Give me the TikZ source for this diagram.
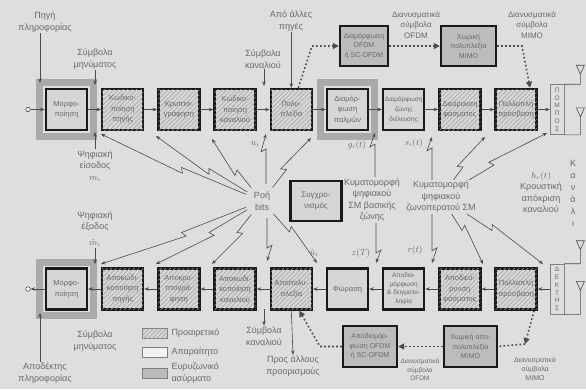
\documentclass[tikz,border=0pt]{standalone}
\usepackage{fontspec}
\setmainfont{Liberation Sans}
\usetikzlibrary{positioning,arrows.meta,calc,fit,patterns.meta}

\definecolor{bgray}{RGB}{222,222,222}
\definecolor{boxgray}{RGB}{214,214,214}
\definecolor{darkbox}{RGB}{188,188,188}
\definecolor{bandgray}{RGB}{170,170,170}
\definecolor{txtgray}{RGB}{105,105,105}
\definecolor{linegray}{RGB}{75,75,75}

\tikzset{
  blk/.style={draw=black!90, line width=2.4pt, fill=boxgray, minimum width=41pt,
    minimum height=41pt, inner sep=1pt, align=center, text=txtgray,
    font=\fontsize{7.5}{10.5}\selectfont},
  optblk/.style={blk, postaction={pattern={Lines[angle=45,distance=3.2pt,line width=0.5pt]},
    pattern color=gray!75}},
  darkblk/.style={blk, fill=darkbox, minimum width=48pt, minimum height=40pt,
    font=\fontsize{7}{9.5}\selectfont},
  band/.style={draw=bandgray, line width=7pt, inner sep=5pt},
  trx/.style={draw=gray, line width=0.6pt, minimum width=14pt, minimum height=50pt,
    inner sep=1pt, align=center, text=txtgray, font=\fontsize{6.5}{7.8}\selectfont},
  lbl/.style={text=txtgray, align=center, inner sep=1pt, font=\fontsize{9}{11.5}\selectfont},
  smlbl/.style={lbl, font=\fontsize{8}{10.5}\selectfont},
  conn/.style={draw=linegray, line width=0.6pt, -{Stealth[length=4.5pt,width=3.5pt]}},
  dotline/.style={draw=linegray, line width=1.6pt, dash pattern=on 1.6pt off 2.4pt},
  dotconn/.style={dotline, -{Triangle[length=6pt,width=6pt]}},
  port/.style={circle, draw=linegray, line width=0.6pt, fill=white, inner sep=1.6pt},
  legsw/.style={draw=gray, line width=0.6pt, minimum width=25pt, minimum height=10pt, inner sep=0pt},
  bolt/.style={to path={-- ($(\tikztostart)!#1!(\tikztotarget)$)
    -- ($(\tikztostart)!#1!(\tikztotarget)!3pt!(\tikztostart)!5pt!90:(\tikztotarget)$)
    -- (\tikztotarget) \tikztonodes}},
  bolt/.default=0.5
}

\begin{document}
\begin{tikzpicture}[x=1pt, y=-1pt, node distance=12.8pt]
  \fill[bgray] (0,0) rectangle (586,389);
  \useasboundingbox (0,0) rectangle (586,389);

  % transmitter
  \node[port] (src) at (28,109.5) {};
  \node[blk] (mf) at (66.5,109.5) {Μορφο-\\ποίηση};
  \node[optblk, right=of mf] (kp) {Κωδικο-\\ποίηση\\πηγής};
  \node[optblk, right=of kp] (kr) {Κρυπτο-\\γράφηση};
  \node[optblk, right=of kr] (kk) {Κωδικο-\\ποίηση\\καναλιού};
  \node[optblk, right=of kk] (pl) {Πολυ-\\πλεξία};
  \node[blk, right=of pl] (dp) {Διαμόρ-\\φωση\\παλμών};
  \node[blk, right=of dp, font=\fontsize{6.5}{10}\selectfont] (dz) {Διαμόρφωση\\ζώνης\\διέλευσης};
  \node[optblk, right=of dz] (df) {Διεύρυνση\\φάσματος};
  \node[optblk, right=of df] (pp) {Πολλαπλή\\πρόσβαση};
  \node[trx, right=12pt of pp] (pomp) {Π\\Ο\\Μ\\Π\\Ο\\Σ};

  % receiver
  \node[port] (snk) at (28,289) {};
  \node[blk] (mf2) at (66.5,289) {Μορφο-\\ποίηση};
  \node[optblk, right=of mf2] (ak) {Αποκωδι-\\κοποίηση\\πηγής};
  \node[optblk, right=of ak] (akr) {Αποκρυ-\\πτογρά-\\φηση};
  \node[optblk, right=of akr] (akk) {Αποκωδι-\\κοποίηση\\καναλιού};
  \node[optblk, right=of akk] (apl) {Αποπολυ-\\πλεξία};
  \node[blk, right=of apl] (fo) {Φώραση};
  \node[blk, right=of fo, font=\fontsize{6.5}{8.5}\selectfont] (ad) {Αποδια-\\μόρφωση\\\& δειγματο-\\ληψία};
  \node[optblk, right=of ad] (adf) {Αποδιεύ-\\ρυνση\\φάσματος};
  \node[optblk, right=of adf] (pp2) {Πολλαπλή\\πρόσβαση};
  \node[trx, right=12pt of pp2] (dekt) {Δ\\Ε\\Κ\\Τ\\Η\\Σ};

  \node[band, fit=(mf)] {};
  \node[band, fit=(dp)] {};
  \node[band, fit=(mf2)] {};

  \draw[conn] (src) -- (mf);
  \foreach \a/\b in {mf/kp,kp/kr,kr/kk,kk/pl,pl/dp,dp/dz,dz/df,df/pp,pp/pomp}
    \draw[conn] (\a) -- (\b);
  \foreach \a/\b in {dekt/pp2,pp2/adf,adf/ad,ad/fo,fo/apl,apl/akk,akk/akr,akr/ak,ak/mf2}
    \draw[conn] (\a) -- (\b);
  \draw[conn] (mf2) -- (snk);

  % antennas
  \draw[linegray, line width=0.6pt] (pomp.north east) -- ++(16pt,0) -- ++(0,10pt) coordinate (ant1)
    -- ++(-4pt,9pt) -- ++(8pt,0) -- (ant1);
  \draw[linegray, line width=0.6pt] (pomp.south east) -- ++(16pt,0) -- ++(0,18pt) coordinate (ant2)
    -- ++(-4pt,9pt) -- ++(8pt,0) -- (ant2);
  \draw[linegray, line width=0.6pt] (dekt.north east) -- ++(16pt,0) -- ++(0,14pt) coordinate (ant3)
    -- ++(-4pt,9pt) -- ++(8pt,0) -- (ant3);
  \draw[linegray, line width=0.6pt] (dekt.south east) -- ++(16pt,0) -- ++(0,24pt) coordinate (ant4)
    -- ++(-4pt,9pt) -- ++(8pt,0) -- (ant4);

  % labels above the transmitter
  \node[lbl] (pigi) at (45,22) {Πηγή\\πληροφορίας};
  \coordinate (pigiin) at (40,83);
  \draw[conn] (pigi.south -| pigiin) -- (pigiin);
  \node[lbl] (symm) at (95,59) {Σύμβολα\\μηνύματος};
  \coordinate (symmin) at (95,85);
  \draw[conn] (symm.south) -- (symmin);
  \node[lbl] (allo) at (291,21) {Από άλλες\\πηγές};
  \draw[conn] (allo.south -| pl.north) -- (pl.north);
  \node[lbl] (symk) at (263,59) {Σύμβολα\\καναλιού};
  \coordinate (symkin) at (264,86);
  \draw[conn] (symk.south -| symkin) -- (symkin);

  \node[darkblk] (ofdm) at (364,46) {Διαμόρφωση\\OFDM\\ή SC-OFDM};
  \node[darkblk, minimum width=55pt] (mimo) at (468.5,46) {Χωρική\\πολυπλεξία\\MIMO};
  \node[smlbl] (vofdm) at (416,25) {Διανυσματικά\\σύμβολα\\OFDM};
  \node[smlbl] (vmimo) at (532,25) {Διανυσματικά\\σύμβολα\\MIMO};
  \draw[dotconn] ($(pl.north)+(7pt,0)$) -- (312,46) -- (ofdm.west);
  \draw[dotconn] (ofdm) -- (mimo);
  \draw[dotconn] (mimo.east) -- (522,46) -- ($(pp.north)+(14pt,0)$);

  % middle
  \node[lbl] (din) at (95,166) {Ψηφιακή\\είσοδος\\$m_i$};
  \coordinate (dinend) at (95,132);
  \draw[conn] (din.north) -- (dinend);
  \node[lbl] (dout) at (95,229) {Ψηφιακή\\έξοδος\\[4pt]$\hat{m}_i$};
  \coordinate (doutend) at (95,264);
  \draw[conn] (dout.south) -- (doutend);

  \node[lbl, circle, inner sep=0pt, minimum size=34pt] (rb) at (262,201) {Ροή\\bits};
  \coordinate (t1) at (101,134);
  \coordinate (t2) at (156,136);
  \coordinate (t3) at (212,139);
  \coordinate (t5) at (311,138);
  \coordinate (tu) at (266,134);
  \coordinate (b1) at (101,264);
  \coordinate (b2) at (156,264);
  \coordinate (b3) at (212,264);
  \coordinate (b5) at (317,263);
  \coordinate (bu) at (267,261);
  \foreach \t in {t1,t2,t3,t5,b1,b2,b3,b5}
    \draw[conn] (rb) to[bolt] (\t);
  \draw[conn] (rb.north -| tu) to[bolt=0.7] (tu);
  \draw[conn] (rb.south -| bu) to[bolt=0.7] (bu);
  \node[lbl] (ui) at (255,144) {$u_i$};
  \node[lbl] (uhat) at (314,253) {$\hat{u}_i$};

  \node[blk, minimum width=51pt, minimum height=40pt, font=\fontsize{8}{11}\selectfont] (sync) at (316,201) {Συγχρο-\\νισμός};

  \node[lbl] (kb) at (372,200) {Κυματομορφή\\ψηφιακού\\ΣΜ βασικής\\ζώνης};
  \coordinate (gend) at (375,133);
  \coordinate (zend) at (376,263);
  \draw[conn] (kb.north -| gend) to[bolt=0.75] (gend);
  \draw[conn] (kb.south -| zend) to[bolt=0.75] (zend);
  \node[lbl] (gi) at (357,145) {$g_i(t)$};
  \node[lbl] (zt) at (361,253) {$z(T)$};

  \node[lbl] (kz) at (441,197) {Κυματομορφή\\ψηφιακού\\ζωνοπερατού ΣΜ};
  \coordinate (send) at (432,137);
  \coordinate (rend) at (432,263);
  \draw[conn] (kz.north -| send) to[bolt=0.75] (send);
  \draw[conn] (kz.south -| rend) to[bolt=0.75] (rend);
  \node[lbl] (si) at (414,143) {$s_i(t)$};
  \node[lbl] (rt) at (415,250) {$r(t)$};
  \coordinate (k1) at (485,137);
  \coordinate (k2) at (547,133);
  \coordinate (k3) at (483,264);
  \coordinate (k4) at (543,264);
  \foreach \t in {k1,k2,k3,k4}
    \draw[conn] (kz) to[bolt] (\t);

  \node[lbl] (hc) at (541,192) {$h_c(t)$\\Κρουστική\\απόκριση\\καναλιού};
  \node[lbl, font=\fontsize{9}{12}\selectfont] (kan) at (573,193) {Κ\\α\\ν\\ά\\λ\\ι};

  % labels below the receiver
  \node[lbl] (symm2) at (95,341) {Σύμβολα\\μηνύματος};
  \node[lbl] (apod) at (45,373) {Αποδέκτης\\πληροφορίας};
  \coordinate (apoend) at (40,313);
  \draw[conn] (apod.north -| apoend) -- (apoend);
  \node[lbl] (symk2) at (264,336) {Σύμβολα\\καναλιού};
  \coordinate (symkout) at (264,309);
  \draw[conn] (symkout) -- (symk2.north);
  \node[lbl] (pros) at (293,366) {Προς άλλους\\προορισμούς};
  \draw[conn] (apl.south) -- (pros.north);

  \node[darkblk, minimum width=54pt, minimum height=41pt] (dofdm) at (370,346.5) {Αποδιαμόρ-\\φωση OFDM\\ή SC-OFDM};
  \node[darkblk, minimum width=53pt, minimum height=41pt] (dmimo) at (470.5,346.5) {Χωρική απο-\\πολυπλεξία\\MIMO};
  \coordinate (dcorner) at (525,344);
  \draw[dotconn] (dofdm.west) -- (320,346.5) -- ($(apl.south)+(8pt,0)$);
  \draw[dotconn] (dmimo) -- (dofdm);
  \draw[dotconn] ($(pp2.south)+(18pt,0)$) -- (dcorner);
  \draw[dotline] (dcorner) -- (dmimo.east);
  \node[lbl, font=\fontsize{6.5}{8.5}\selectfont] (vofdm2) at (420,370) {Διανυσματικά\\σύμβολα\\OFDM};
  \node[lbl, font=\fontsize{7}{9}\selectfont] (vmimo2) at (535,369) {Διανυσματικά\\σύμβολα\\MIMO};

  % legend
  \node[legsw, fill=boxgray, postaction={pattern={Lines[angle=45,distance=3pt,line width=0.5pt]},
    pattern color=gray!75}] (lg1) at (154.5,333) {};
  \node[legsw, fill=white!70!boxgray] (lg2) at (154.5,352.5) {};
  \node[legsw, fill=darkbox] (lg3) at (154.5,373) {};
  \node[lbl, right=3pt of lg1] {Προαιρετικό};
  \node[lbl, right=3pt of lg2] {Απαραίτητο};
  \node[lbl, right=3pt of lg3, align=left] {Ευρυζωνικό\\ασύρματο};
\end{tikzpicture}
\end{document}
